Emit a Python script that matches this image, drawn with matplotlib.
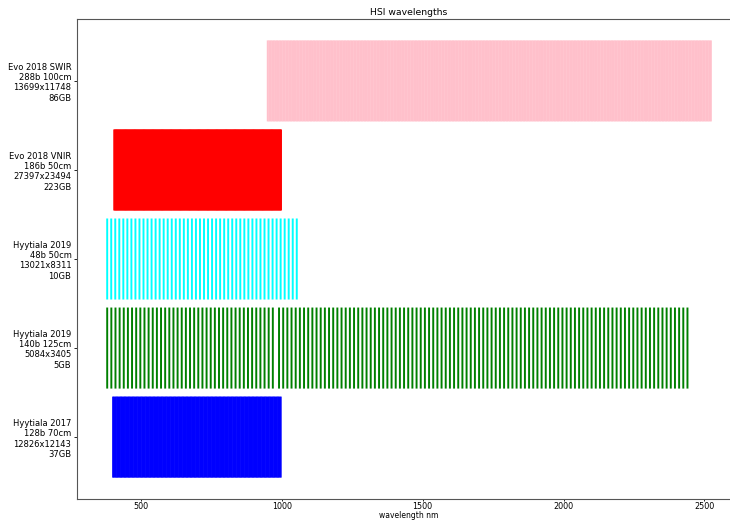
import numpy as np
import matplotlib.pyplot as plt

# Sensors, bottom row first
labels = [
    "Hyytiala 2017\n128b 70cm\n12826x12143\n37GB",
    "Hyytiala 2019\n140b 125cm\n5084x3405\n5GB",
    "Hyytiala 2019\n48b 50cm\n13021x8311\n10GB",
    "Evo 2018 VNIR\n186b 50cm\n27397x23494\n223GB",
    "Evo 2018 SWIR\n288b 100cm\n13699x11748\n86GB",
]
colors = ["blue", "green", "cyan", "red", "pink"]

# band segments per sensor: (first nm, last nm, number of bands)
segments = [
    [(401, 996, 128)],
    [(380, 968, 41), (990, 2440, 99)],
    [(380, 1053, 48)],
    [(405, 997, 186)],
    [(950, 2523, 288)],
]

bands = []
for segs in segments:
    wl = np.concatenate([np.linspace(a, b, n) for a, b, n in segs])
    bands.append(wl)

fig = plt.figure(figsize=(7.3, 5.2), dpi=100)
ax = fig.add_axes([0.1055, 0.0404, 0.9096, 0.923])

colls = ax.eventplot(bands, colors=colors, lineoffsets=np.arange(len(bands)),
                     linelengths=0.91, linewidths=1.4)
for c in colls:
    c.set_snap(False)

ax.set_ylim(-0.695, 4.695)
ax.set_yticks(np.arange(len(labels)))
ax.set_yticklabels(labels, fontsize=6)
ax.set_xticks([500, 1000, 1500, 2000, 2500])
ax.tick_params(axis='x', labelsize=5.8, length=1.5, width=0.6, pad=0.5)
ax.tick_params(axis='y', length=2, width=0.6, pad=2)
ax.set_xlabel("wavelength nm", fontsize=5.5)
ax.xaxis.set_label_coords(0.5, -0.0245)
ax.set_title("HSI wavelengths", fontsize=6.7, pad=3)
for s in ax.spines.values():
    s.set_linewidth(0.8)
    s.set_color('#555555')

fig.savefig("out.png", dpi=100)
